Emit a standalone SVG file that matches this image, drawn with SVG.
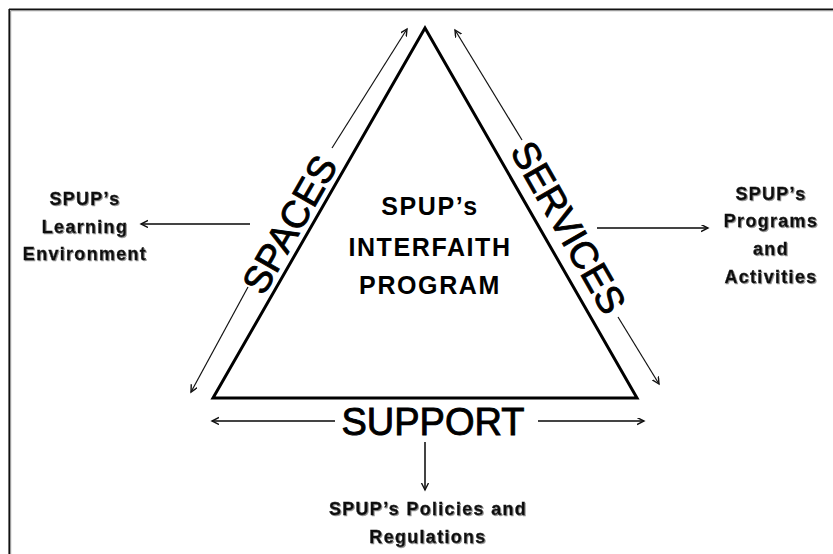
<svg xmlns="http://www.w3.org/2000/svg" width="833" height="554" viewBox="0 0 833 554">
  <style>
    .frame-dark { stroke: #111; stroke-width: 1.6; fill: none; }
    .frame-soft { stroke: #9a9a9a; stroke-width: 1.2; fill: none; }
    .tri { fill: #fff; stroke: #000; stroke-width: 3; stroke-linejoin: miter; }
    .thin { stroke: #111; stroke-width: 1.2; fill: none; marker-end: url(#head); }
    .thick { stroke: #444; stroke-width: 2; fill: none; marker-end: url(#head); }
    .side { font-family: "Liberation Sans", Arial, sans-serif; font-size: 38px; fill: #000; stroke: #000; stroke-width: 0.9px; text-anchor: middle; }
    .core { font-family: "Liberation Sans", Arial, sans-serif; font-size: 25px; font-weight: bold; letter-spacing: 1.6px; fill: #000; text-anchor: middle; }
    .note { font-family: "Liberation Sans", Arial, sans-serif; font-size: 18px; font-weight: bold; letter-spacing: 1.3px; fill: #111; stroke: #111; stroke-width: 0.35px; text-anchor: middle; filter: url(#shade); }
  </style>
  <defs>
    <marker id="head" markerUnits="userSpaceOnUse" markerWidth="10" markerHeight="10" refX="7" refY="3.5" orient="auto">
      <path d="M0,0 L7,3.5 L0,7" fill="none" stroke="#111" stroke-width="1.4"/>
    </marker>
    <filter id="shade" x="-10%" y="-20%" width="120%" height="150%">
      <feDropShadow dx="1" dy="1" stdDeviation="0.7" flood-color="#777" flood-opacity="0.8"/>
    </filter>
  </defs>

  <!-- page frame: top and left edges only -->
  <g id="frame">
    <line class="frame-soft" x1="10.5" y1="10.6" x2="833" y2="10.6"/>
    <line class="frame-soft" x1="10.6" y1="10.5" x2="10.6" y2="554"/>
    <line class="frame-dark" x1="9" y1="9.2" x2="833" y2="9.2"/>
    <line class="frame-dark" x1="9.2" y1="9" x2="9.2" y2="554"/>
  </g>

  <!-- central triangle with its label -->
  <g id="program">
    <polygon class="tri" points="425,28 213,398 637,398"/>
    <text class="core" x="430" y="215">SPUP’s</text>
    <text class="core" x="430" y="256">INTERFAITH</text>
    <text class="core" x="430" y="294">PROGRAM</text>
  </g>

  <!-- side labels -->
  <g id="spaces">
    <text class="side" transform="translate(301,231) rotate(-60.2)">SPACES</text>
  </g>
  <g id="services">
    <text class="side" transform="translate(557,234) rotate(60.2)">SERVICES</text>
  </g>
  <g id="support">
    <text class="side" x="433" y="435">SUPPORT</text>
  </g>

  <!-- outcome labels -->
  <g id="learning">
    <text class="note" x="85" y="205">SPUP’s</text>
    <text class="note" x="85" y="233">Learning</text>
    <text class="note" x="85" y="260">Environment</text>
  </g>
  <g id="activities">
    <text class="note" x="771" y="200">SPUP’s</text>
    <text class="note" x="771" y="227">Programs</text>
    <text class="note" x="771" y="255">and</text>
    <text class="note" x="771" y="283">Activities</text>
  </g>
  <g id="policies">
    <text class="note" x="428" y="515">SPUP’s Policies and</text>
    <text class="note" x="428" y="543">Regulations</text>
  </g>

  <!-- connectors -->
  <g id="connectors">
    <line class="thin" x1="332" y1="148" x2="407" y2="29"/>
    <line class="thin" x1="522" y1="140" x2="455" y2="30"/>
    <line class="thin" x1="248" y1="287" x2="191" y2="392"/>
    <line class="thin" x1="618" y1="317" x2="659" y2="384"/>
    <line class="thick" x1="250" y1="224" x2="141" y2="224"/>
    <line class="thick" x1="597" y1="228" x2="708" y2="228"/>
    <line class="thick" x1="335" y1="421" x2="212" y2="421"/>
    <line class="thick" x1="538" y1="421" x2="644" y2="421"/>
    <line class="thick" x1="425" y1="442" x2="425" y2="490"/>
  </g>
</svg>
